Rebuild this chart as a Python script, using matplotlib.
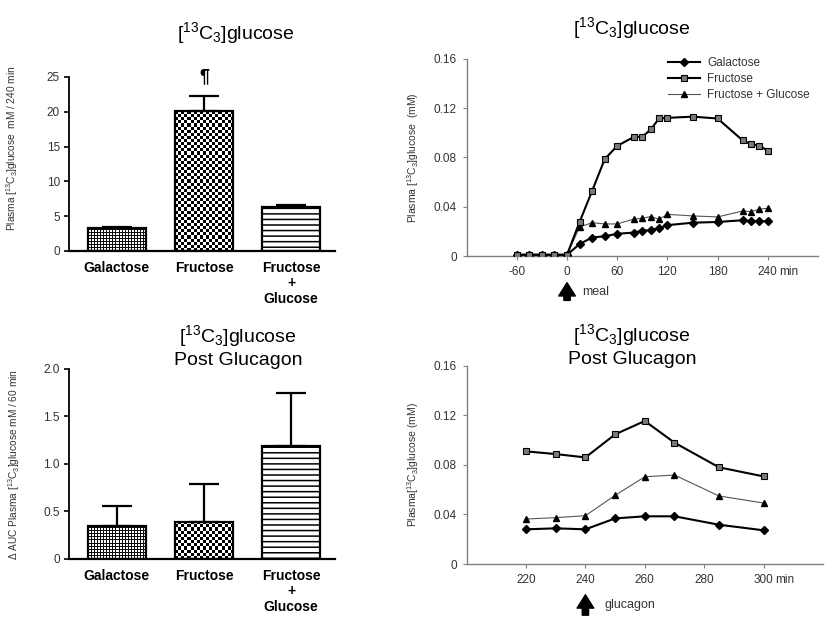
"""Plasma [13C3]glucose after galactose, fructose and fructose + glucose meals."""

import matplotlib

matplotlib.use("Agg")
import matplotlib.pyplot as plt
import numpy as np

plt.rcParams.update(
    {
        "font.family": ["Liberation Sans", "DejaVu Sans"],
        "mathtext.fontset": "custom",
        "mathtext.rm": "Liberation Sans",
        "mathtext.it": "Liberation Sans:italic",
        "mathtext.bf": "Liberation Sans:bold",
        "hatch.linewidth": 1.1,
    }
)

# ---- data -------------------------------------------------------------
SUGARS = ["Galactose", "Fructose", "Fructose\n+\nGlucose"]
AUC_240 = [3.3, 20.1, 6.3]
AUC_240_ERR = [0.15, 2.1, 0.25]
AUC_POST_GLUCAGON = [0.35, 0.39, 1.19]
AUC_POST_GLUCAGON_ERR = [0.21, 0.40, 0.56]

MEAL_TIMES = [-60, -45, -30, -15, 0, 15, 30, 45, 60, 80, 90, 100, 110, 120, 150, 180, 210, 220, 230, 240]
MEAL_GALACTOSE = [0.001, 0.001, 0.001, 0.001, 0.001, 0.0097, 0.015, 0.016, 0.018, 0.019, 0.0205,
                  0.021, 0.0225, 0.025, 0.027, 0.0276, 0.029, 0.028, 0.0284, 0.028]
MEAL_FRUCTOSE = [0.001, 0.001, 0.001, 0.001, 0.001, 0.0276, 0.0528, 0.0785, 0.0893, 0.0966, 0.0966,
                 0.1026, 0.1115, 0.112, 0.113, 0.1115, 0.0937, 0.0907, 0.0893, 0.0855]
MEAL_FRU_GLU = [0.001, 0.001, 0.001, 0.001, 0.001, 0.0235, 0.027, 0.026, 0.026, 0.030, 0.0306,
                0.032, 0.0298, 0.0338, 0.0325, 0.0317, 0.0365, 0.036, 0.038, 0.0387]

GLUC_TIMES = [220, 230, 240, 250, 260, 270, 285, 300]
GLUC_GALACTOSE = [0.028, 0.0288, 0.028, 0.0368, 0.0385, 0.0385, 0.0317, 0.0272]
GLUC_FRUCTOSE = [0.0909, 0.0887, 0.086, 0.1046, 0.1154, 0.0979, 0.078, 0.0707]
GLUC_FRU_GLU = [0.0363, 0.0374, 0.039, 0.0554, 0.0704, 0.0718, 0.0549, 0.0492]

TITLE = r"[$^{13}$C$_3$]glucose"
TICK_COLOR = "#333333"
AXIS_GRAY = "#808080"


def pattern_fill(ax, bar, kind):
    """Paint a checker / grid texture inside a bar, clipped to its outline."""
    bb = bar.get_window_extent()
    if kind == "grid":
        nx, ny = max(1, int(round(bb.width))), max(1, int(round(bb.height)))
        jj, ii = np.meshgrid(np.arange(nx), np.arange(ny))
        tex = np.where((ii % 3 == 0) | (jj % 3 == 0), 0.05, 1.0)
    else:
        cell = 3.1
        nx = max(1, int(round(bb.width / cell)))
        ny = max(1, int(round(bb.height / cell)))
        tex = np.indices((ny, nx)).sum(axis=0) % 2
    x0, w, h = bar.get_x(), bar.get_width(), bar.get_height()
    im = ax.imshow(tex, cmap="gray", vmin=0, vmax=1, origin="lower", aspect="auto",
                   interpolation="nearest", extent=(x0, x0 + w, 0, h), zorder=2)
    im.set_clip_path(bar)


def bar_panel(ax, values, errors, ylim, yticks, yticklabels, ylabel, label_xy):
    x = np.arange(len(values))
    ax.set_xlim(-0.55, 2.5)
    ax.set_ylim(*ylim)
    bars = ax.bar(x, values, width=0.67, facecolor="none", edgecolor="black", linewidth=1.6, zorder=3)
    bars[2].set_hatch("---")
    ax.errorbar(x, values, yerr=[np.zeros(len(errors)), errors], fmt="none", ecolor="black",
                elinewidth=1.6, capsize=11, capthick=1.6, zorder=4)
    pattern_fill(ax, bars[0], "grid")
    pattern_fill(ax, bars[1], "checker")
    ax.set_xlim(-0.55, 2.5)
    ax.set_ylim(*ylim)
    for side in ("top", "right"):
        ax.spines[side].set_visible(False)
    ax.spines["left"].set_linewidth(1.3)
    ax.spines["bottom"].set_linewidth(1.6)
    ax.set_yticks(yticks)
    ax.set_yticklabels(yticklabels)
    ax.set_xticks(x)
    ax.set_xticklabels(SUGARS, fontweight="bold", fontsize=10, linespacing=1.15)
    ax.tick_params(axis="x", length=0, pad=7)
    ax.tick_params(axis="y", length=3.5, width=1.2, labelsize=8.5, labelcolor=TICK_COLOR, pad=3)
    ax.set_ylabel(ylabel, fontsize=7.3, color=TICK_COLOR)
    ax.yaxis.set_label_coords(*label_xy)
    return bars


def line_panel(ax, times, gal, fru, frg, xlim, xticks, ylabel, label_xy):
    ax.plot(times, frg, color="#555555", linewidth=0.8, marker="^", markersize=4,
            markerfacecolor="black", markeredgecolor="black", label="Fructose + Glucose", zorder=3)
    ax.plot(times, gal, color="black", linewidth=1.5, marker="D", markersize=4,
            markerfacecolor="black", label="Galactose", zorder=4)
    ax.plot(times, fru, color="black", linewidth=1.5, marker="s", markersize=4.8,
            markerfacecolor="#7a7a7a", markeredgecolor="black", markeredgewidth=0.8,
            label="Fructose", zorder=5)
    ax.set_xlim(*xlim)
    ax.set_ylim(0, 0.16)
    ax.set_yticks([0, 0.04, 0.08, 0.12, 0.16])
    ax.set_yticklabels(["0", "0.04", "0.08", "0.12", "0.16"])
    ax.set_xticks(xticks)
    ax.set_xticklabels([str(t) for t in xticks])
    for side in ("top", "right"):
        ax.spines[side].set_visible(False)
    for side in ("left", "bottom"):
        ax.spines[side].set_color(AXIS_GRAY)
        ax.spines[side].set_linewidth(1.0)
    ax.tick_params(length=3, width=0.8, color=AXIS_GRAY, labelsize=8.5, labelcolor=TICK_COLOR, pad=4)
    ax.annotate("min", xy=(xticks[-1], 0), xycoords=("data", "axes fraction"),
                xytext=(8, -7), textcoords="offset points", ha="left", va="top",
                fontsize=8.5, color=TICK_COLOR, annotation_clip=False)
    ax.set_ylabel(ylabel, fontsize=7.5, color=TICK_COLOR)
    ax.yaxis.set_label_coords(*label_xy)


def event_arrow(ax, x, text, tip, tail, text_dx):
    ax.annotate("", xy=(x, tip), xytext=(x, tail), xycoords=("data", "axes fraction"),
                textcoords=("data", "axes fraction"), annotation_clip=False,
                arrowprops=dict(arrowstyle="simple,head_length=0.8,head_width=1.0,tail_width=0.38",
                                mutation_scale=12, color="black", shrinkA=0, shrinkB=0))
    ax.annotate(text, xy=(x, (tip + tail) / 2), xycoords=("data", "axes fraction"),
                xytext=(text_dx, 0), textcoords="offset points", ha="left", va="center",
                fontsize=9, color=TICK_COLOR, annotation_clip=False)


fig = plt.figure(figsize=(8.28, 6.29), dpi=100)

ax1 = fig.add_axes([0.0833, 0.601, 0.321, 0.2766])
bars = bar_panel(ax1, AUC_240, AUC_240_ERR, (0, 25), [0, 5, 10, 15, 20, 25],
                 ["0", "5", "10", "15", "20", "25"],
                 r"Plasma [$^{13}$C$_3$]glucose  mM / 240 min", (-0.184, 0.59))
ax1.annotate("¶", xy=(1, AUC_240[1] + AUC_240_ERR[1]), xytext=(0, 8), textcoords="offset points",
             ha="center", va="bottom", fontsize=13, fontweight="bold")

ax3 = fig.add_axes([0.0833, 0.1113, 0.321, 0.3025])
bar_panel(ax3, AUC_POST_GLUCAGON, AUC_POST_GLUCAGON_ERR, (0, 2.0), [0, 0.5, 1.0, 1.5, 2.0],
          ["0", "0.5", "1.0", "1.5", "2.0"],
          r"Δ AUC Plasma [$^{13}$C$_3$]glucose mM / 60 min", (-0.177, 0.494))

ax2 = fig.add_axes([0.5636, 0.593, 0.4243, 0.3137])
line_panel(ax2, MEAL_TIMES, MEAL_GALACTOSE, MEAL_FRUCTOSE, MEAL_FRU_GLU, (-120, 300),
           [-60, 0, 60, 120, 180, 240], r"Plasma [$^{13}$C$_3$]glucose  (mM)", (-0.13, 0.497))
handles, labels = ax2.get_legend_handles_labels()
order = [1, 2, 0]
ax2.legend([handles[i] for i in order], [labels[i] for i in order], loc="upper left",
           bbox_to_anchor=(0.573, 1.01), frameon=False, fontsize=8.5, borderpad=0,
           borderaxespad=0, handlelength=2.7, handletextpad=0.6, labelspacing=0.35,
           labelcolor=TICK_COLOR)
event_arrow(ax2, 0, "meal", -0.135, -0.225, 11)

ax4 = fig.add_axes([0.5636, 0.1033, 0.4303, 0.3153])
line_panel(ax4, GLUC_TIMES, GLUC_GALACTOSE, GLUC_FRUCTOSE, GLUC_FRU_GLU, (200, 320),
           [220, 240, 260, 280, 300], r"Plasma[$^{13}$C$_3$]glucose (mM)", (-0.128, 0.504))
event_arrow(ax4, 240, "glucagon", -0.155, -0.258, 14)

fig.text(0.285, 0.9475, TITLE, ha="center", va="center", fontsize=14)
fig.text(0.763, 0.9555, TITLE, ha="center", va="center", fontsize=14)
fig.text(0.2874, 0.45, TITLE + "\nPost Glucagon", ha="center", va="center", fontsize=14,
         linespacing=1.2)
fig.text(0.7633, 0.4515, TITLE + "\nPost Glucagon", ha="center", va="center", fontsize=14,
         linespacing=1.2)

fig.savefig("out.png", dpi=100)
